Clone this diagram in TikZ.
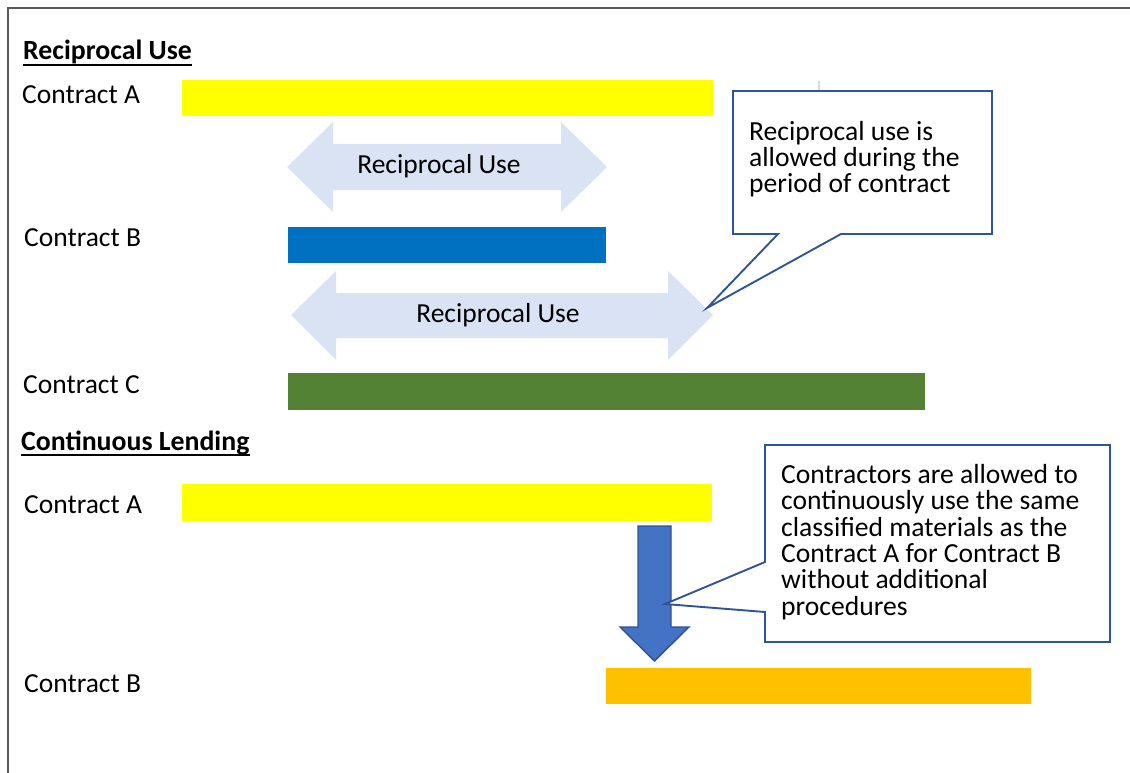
\documentclass[tikz,border=0pt]{standalone}
\usepackage{fontspec}
\setmainfont{Carlito}
\definecolor{cyellow}{HTML}{FFFF00}
\definecolor{cblue}{HTML}{0070C0}
\definecolor{cgreen}{HTML}{548235}
\definecolor{corange}{HTML}{FFC000}
\definecolor{clight}{HTML}{DAE3F3}
\definecolor{cdown}{HTML}{4472C4}
\definecolor{cdownline}{HTML}{2F528F}
\definecolor{ccall}{HTML}{2F5597}
\definecolor{cframe}{HTML}{5A5A5A}
\begin{document}
\begin{tikzpicture}[x=1pt,y=-1pt,
  lbl/.style={anchor=base west, inner sep=0pt, font=\fontsize{27.5}{30}\selectfont},
  hdr/.style={anchor=base west, inner sep=0pt, font=\fontsize{27.8}{30}\selectfont\bfseries},
  arrlbl/.style={anchor=base, inner sep=0pt, font=\fontsize{27.5}{30}\selectfont},
  calltxt/.style={anchor=base west, inner sep=0pt, align=left, font=\fontsize{27.6}{26.3}\selectfont},
  wide/.style={fill=clight, draw=none},
  callbox/.style={draw=ccall, line width=1.9pt, fill=white, line join=miter},
  downarr/.style={fill=cdown, draw=cdownline, line width=1.4pt, line join=miter}]
\useasboundingbox (0,0) rectangle (1130,773);
% frame
\draw[cframe, line width=1.2pt] (8,773) -- (8,8) -- (1130,8);
% grey tick
\draw[gray!30, line width=2pt] (819,81) -- (819,92);

% ---------- Reciprocal Use ----------
\node[hdr] (h1) at (23,60) {Reciprocal Use};
\draw[line width=2pt] ([yshift=-5pt]h1.base west) -- ([yshift=-5pt]h1.base east);

\node[lbl] (la1) at (22,104) {Contract A};
\fill[cyellow] (182,80) rectangle (713,116);

\fill[wide] (287,167) -- (333,122) -- (333,144) -- (561,144) -- (561,122) -- (607,167)
  -- (561,212) -- (561,190) -- (333,190) -- (333,212) -- cycle;
\node[arrlbl] (r1) at (439,173) {Reciprocal Use};

\node[lbl] (lb1) at (24,246) {Contract B};
\fill[cblue] (288,227) rectangle (606,263);

\fill[wide] (291,315) -- (336,271) -- (336,293) -- (668,293) -- (668,271) -- (713,315)
  -- (668,360) -- (668,338) -- (336,338) -- (336,360) -- cycle;
\node[arrlbl] (r2) at (498,322) {Reciprocal Use};

\node[lbl] (lc1) at (23,393) {Contract C};
\fill[cgreen] (288,373) rectangle (925,410);

% callout 1
\draw[callbox] (733,91) -- (992,91) -- (992,234) -- (841,234) -- (707,308) -- (778,234)
  -- (733,234) -- cycle;
\node[calltxt] (c1) at (749,193) {Reciprocal use is\\allowed during the\\period of contract};

% ---------- Continuous Lending ----------
\node[hdr] (h2) at (21,450) {Continuous Lending};
\draw[line width=2pt] ([yshift=-5pt]h2.base west) -- ([yshift=-5pt]h2.base east);

\node[lbl] (la2) at (24,513) {Contract A};
\fill[cyellow] (182,484) rectangle (712,521);

\draw[downarr] (638,526) -- (671,526) -- (671,627) -- (689,627) -- (654.5,661) -- (620,627)
  -- (638,627) -- cycle;

\node[lbl] (lb2) at (24,692) {Contract B};
\fill[corange] (606,668) rectangle (1031,704);

% callout 2
\draw[callbox] (765,445) -- (1110,445) -- (1110,642) -- (765,642) -- (765,612) -- (665,604)
  -- (765,562) -- cycle;
\node[calltxt] (c2) at (781,615) {Contractors are allowed to\\continuously use the same\\classified materials as the\\Contract A for Contract B\\without additional\\procedures};
\end{tikzpicture}
\end{document}
